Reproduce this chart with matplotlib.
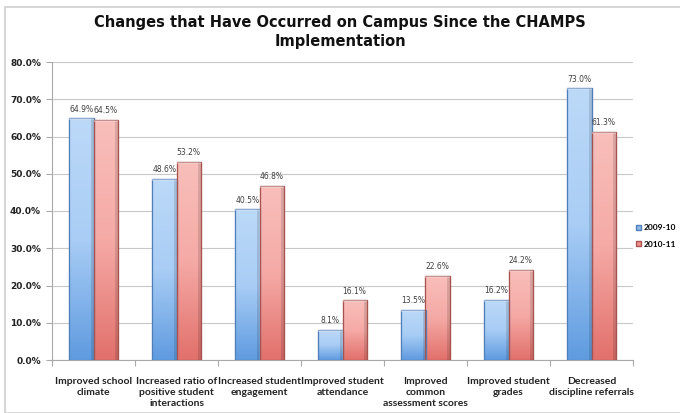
import numpy as np
import matplotlib
matplotlib.use("Agg")
import matplotlib.pyplot as plt
from matplotlib.patches import Rectangle
from matplotlib.colors import LinearSegmentedColormap

categories = ["Improved school\nclimate",
              "Increased ratio of\npositive student\ninteractions",
              "Increased student\nengagement",
              "Improved student\nattendance",
              "Improved\ncommon\nassessment scores",
              "Improved student\ngrades",
              "Decreased\ndiscipline referrals"]
series_names = ["2009-10", "2010-11"]
v2009 = [64.9, 48.6, 40.5, 8.1, 13.5, 16.2, 73.0]
v2010 = [64.5, 53.2, 46.8, 16.1, 22.6, 24.2, 61.3]
yticks = [0, 10, 20, 30, 40, 50, 60, 70, 80]

W, H = 680, 413
fig = plt.figure(figsize=(W/100, H/100), dpi=100)
fig.patch.set_facecolor("white")
fig.add_artist(Rectangle((5/W, 0), 1.0, 1 - 7/H, transform=fig.transFigure,
                         fill=False, edgecolor="#d0d0d0", lw=1.2))

ax = fig.add_axes([52/W, 1 - 360/H, (633-52)/W, (360-62)/H])
x = np.arange(len(categories))
bw = 0.29
b1 = ax.bar(x - bw/2, v2009, bw, color="#8fbcee", edgecolor="#4f7fb8", lw=0.8, zorder=3)
b2 = ax.bar(x + bw/2, v2010, bw, color="#f0928d", edgecolor="#a9534f", lw=0.8, zorder=3)

grad = np.linspace(0, 1, 256).reshape(-1, 1)
cm_b = LinearSegmentedColormap.from_list("b", ["#5f9be0", "#a9cdf5", "#bcd9f8"])
cm_r = LinearSegmentedColormap.from_list("r", ["#e2706b", "#f5aaa6", "#f9bfbb"])
for bars, cm in ((b1, cm_b), (b2, cm_r)):
    for p in bars:
        x0, y0 = p.get_x(), p.get_y()
        w, h = p.get_width(), p.get_height()
        im = ax.imshow(grad, extent=(x0, x0 + w, y0, y0 + h), origin="lower",
                       aspect="auto", cmap=cm, zorder=3.5)
        im.set_clip_path(p)
        ax.add_patch(Rectangle((x0, y0), w, h, fill=False,
                               edgecolor=p.get_edgecolor(), lw=0.9, zorder=4))
        ax.add_patch(Rectangle((x0 + w*0.88, y0), w*0.12, h, facecolor="black",
                               alpha=0.12, lw=0, zorder=4))
        ax.add_patch(Rectangle((x0, y0 + h - 0.6), w, 0.6, facecolor="white",
                               alpha=0.35, lw=0, zorder=4))

for bars, vals in ((b1, v2009), (b2, v2010)):
    for p, v in zip(bars, vals):
        ax.text(p.get_x() + p.get_width()/2, v + 1.2, f"{v:.1f}%", ha="center",
                va="bottom", fontsize=5.5, color="#404040", zorder=5)

ax.set_xlim(-0.5, len(categories) - 0.5)
ax.set_ylim(0, 80)
ax.set_yticks(yticks)
ax.set_yticklabels([f"{t:.1f}%" for t in yticks], fontsize=6.5, fontweight="bold",
                   color="#222222")
ax.yaxis.grid(True, color="#c8c8c8", lw=0.8, zorder=0)
ax.set_axisbelow(True)
ax.set_xticks(np.arange(len(categories) + 1) - 0.5, minor=False)
ax.set_xticklabels([])
ax.tick_params(axis="x", length=4, color="#aaaaaa", direction="out")
ax.tick_params(axis="y", length=4, color="#aaaaaa", pad=4)
for i, c in enumerate(categories):
    ax.text(i, -4.5, c, ha="center", va="top", fontsize=7.5, fontfamily="Lato",
            fontweight="bold", color="#222222", linespacing=1.3,
            transform=ax.transData)
for s in ("top", "right"):
    ax.spines[s].set_visible(False)
ax.spines["left"].set_color("#aaaaaa")
ax.spines["bottom"].set_color("#aaaaaa")

fig.text(340/W, 1 - 32/H, "Changes that Have Occurred on Campus Since the CHAMPS\nImplementation",
         ha="center", va="center", fontsize=10.5, fontweight="bold", linespacing=1.3,
         color="#111111")

handles = [Rectangle((0, 0), 1, 1, facecolor="#8fbcee", edgecolor="#4f7fb8"),
           Rectangle((0, 0), 1, 1, facecolor="#f0928d", edgecolor="#a9534f")]
fig.legend(handles, series_names, loc="center left", bbox_to_anchor=(630/W, 1 - 236/H),
           frameon=False, handlelength=0.6, handleheight=0.6, borderpad=0.2,
           handletextpad=0.3, labelspacing=1.1,
           prop={"weight": "bold", "size": 6, "family": "Lato"})

fig.savefig("out.png", dpi=100)
